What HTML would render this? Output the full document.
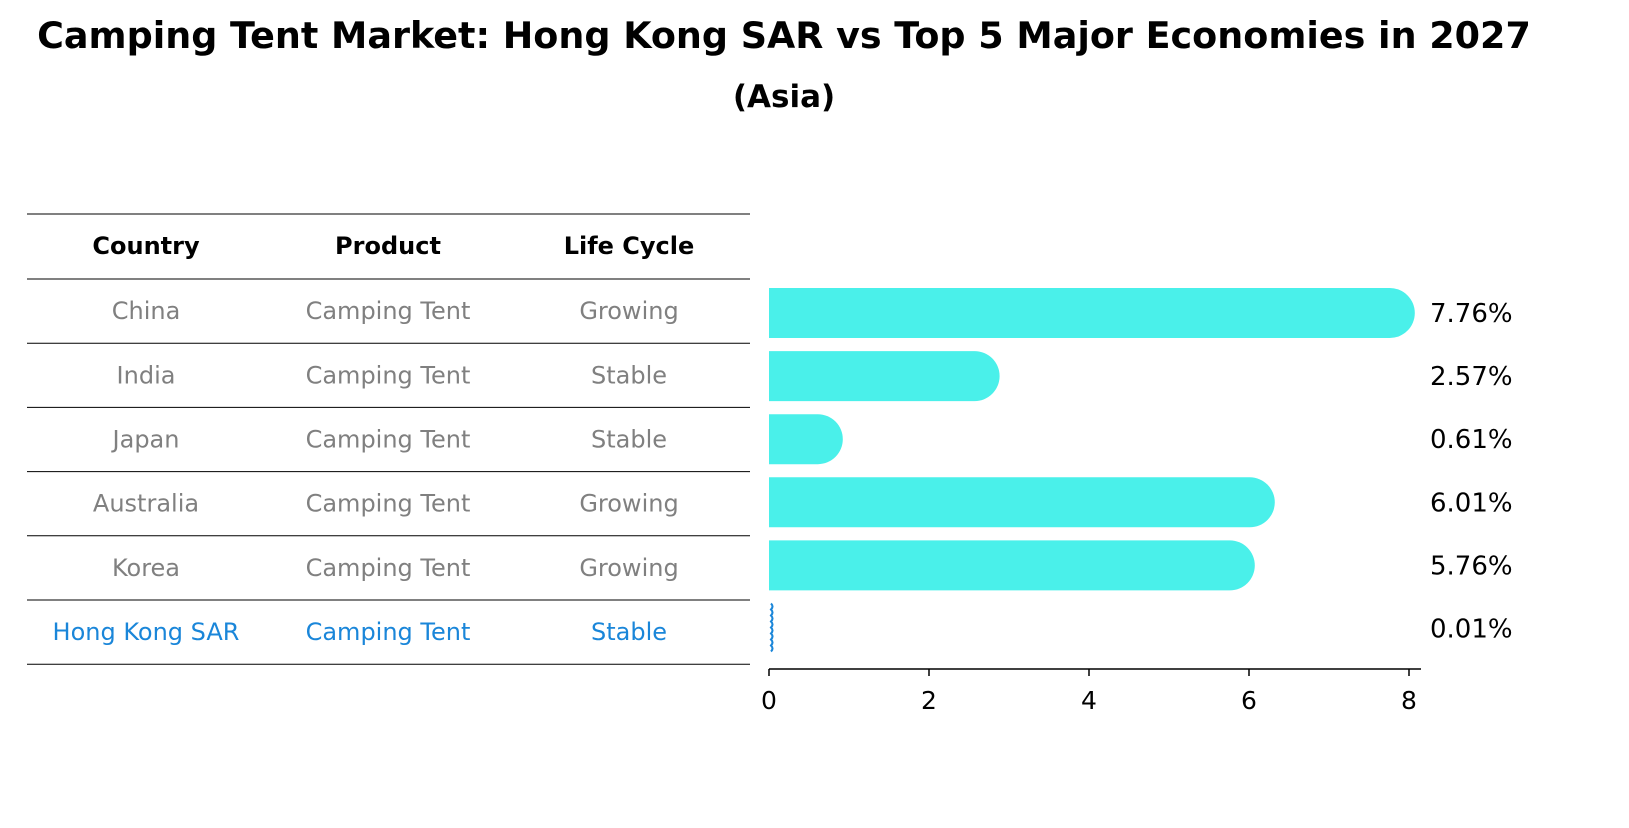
<!DOCTYPE html>
<html><head><meta charset="utf-8"><style>
body{margin:0;background:#fff;font-family:"Liberation Sans","DejaVu Sans",sans-serif}
</style></head><body>
<svg width="1629" height="823" viewBox="0 0 1629 823" font-family="DejaVu Sans, Liberation Sans, sans-serif">
<text x="784" y="48" text-anchor="middle" font-size="36.5" font-weight="bold">Camping Tent Market: Hong Kong SAR vs Top 5 Major Economies in 2027</text>
<text x="784" y="107" text-anchor="middle" font-size="31" font-weight="bold">(Asia)</text>
<g id="table"></g>
<g id="bars"></g>
</svg>
<script>
const countries=["China","India","Japan","Australia","Korea","Hong Kong SAR"];
const products=["Camping Tent","Camping Tent","Camping Tent","Camping Tent","Camping Tent","Camping Tent"];
const lifeCycles=["Growing","Stable","Stable","Growing","Growing","Stable"];
const values=[7.76,2.57,0.61,6.01,5.76,0.01];
const xTicks=[0,2,4,6,8];
const NS="http://www.w3.org/2000/svg";
function mk(t,a,p){const e=document.createElementNS(NS,t);for(const k in a)e.setAttribute(k,a[k]);p.appendChild(e);return e;}
const tb=document.getElementById('table'),bg=document.getElementById('bars');
const x0=769,sx=80,rowH=64.2,firstRow=279;
const xs=v=>x0+v*sx;
const rowY=i=>firstRow+i*rowH;
const hl=mk('line',{x1:27,x2:750,y1:214,y2:214,stroke:'#000','stroke-width':1},tb);


const cols=[146,388,629],heads=["Country","Product","Life Cycle"];
heads.forEach((h,j)=>{const t=mk('text',{x:cols[j],y:254,'text-anchor':'middle','font-size':24,'font-weight':'bold'},tb);t.textContent=h;

});
for(let i=0;i<=countries.length;i++){const l=mk('line',{x1:27,x2:750,y1:rowY(i),y2:rowY(i),stroke:'#000','stroke-width':1},tb);

}
countries.forEach((c,i)=>{const col=i===countries.length-1?'#1a86d9':'#808080';
[c,products[i],lifeCycles[i]].forEach((v,j)=>{const t=mk('text',{x:cols[j],y:rowY(i)+rowH/2+8,'text-anchor':'middle','font-size':24,fill:col},tb);t.textContent=v;

});});
const bh=50,r=25;
values.forEach((v,i)=>{const cy=313+i*63.1;const xe=xs(v);
let el;
if(i===values.length-1){el=mk('path',{d:`M${x0+2} ${cy-25} q3 3 0 6 q3 3 0 6 q3 3 0 6 q3 3 0 6 q3 3 0 6 q3 3 0 6 q3 3 0 6 q3 3 0 6`,fill:'none',stroke:'#1a86d9','stroke-width':2},bg);}
else el=mk('path',{d:`M${x0} ${cy-r} L${xe} ${cy-r} A${r} ${r} 0 0 1 ${xe} ${cy+r} L${x0} ${cy+r} Z`,fill:'#4af0ea'},bg);


const t=mk('text',{x:1430,y:cy+9,'font-size':26},bg);t.textContent=v.toFixed(2)+'%';

});
const ax=mk('line',{x1:x0,x2:1421,y1:669,y2:669,stroke:'#000','stroke-width':1.5},bg);


xTicks.forEach(v=>{const l=mk('line',{x1:xs(v),x2:xs(v),y1:669,y2:676,stroke:'#000','stroke-width':1.5},bg);


const t=mk('text',{x:xs(v),y:709,'text-anchor':'middle','font-size':25},bg);t.textContent=v;

});
</script>
</body></html>
